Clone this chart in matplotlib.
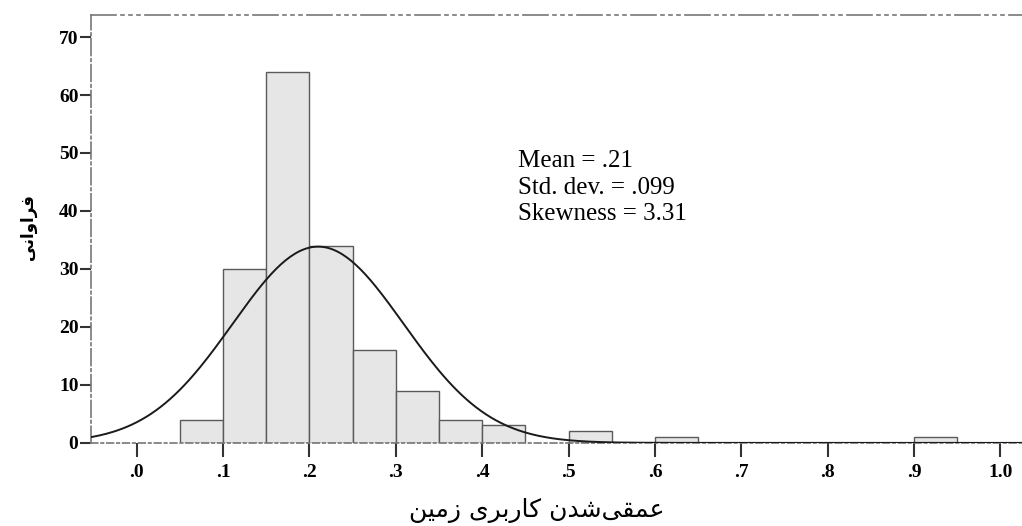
import numpy as np
import matplotlib
matplotlib.use("Agg")
import matplotlib.pyplot as plt

# DATA
bin_left = [0.05, 0.10, 0.15, 0.20, 0.25, 0.30, 0.35, 0.40, 0.50, 0.60, 0.90]
counts = [4, 30, 64, 34, 16, 9, 4, 3, 2, 1, 1]
bin_width = 0.05
mean_val = 0.21
std_val = 0.099
skew_val = 3.31
x_ticks = [0.0, 0.1, 0.2, 0.3, 0.4, 0.5, 0.6, 0.7, 0.8, 0.9, 1.0]
x_tick_labels = [".0", ".1", ".2", ".3", ".4", ".5", ".6", ".7", ".8", ".9", "1.0"]
y_ticks = [0, 10, 20, 30, 40, 50, 60, 70]

# persian labels, already shaped (presentation forms, visual order)
# "فراوانی"
y_label = "\uFBFD\uFEE7\uFE8D\uFEED\uFE8D\uFEAE\uFED3"
# "عمقی‌شدن کاربری زمین"
x_label = ("\uFEE6\uFBFF\uFEE3\uFEAF \uFBFC\uFEAE\uFE91\uFEAD\uFE8E\uFB90 "
           "\uFEE5\uFEAA\uFEB7\uFBFD\uFED8\uFEE4\uFECB")

serif = ["Liberation Serif", "DejaVu Serif"]
arab = ["DejaVu Sans"]

fig = plt.figure(figsize=(10.22, 5.26), dpi=100)
ax = fig.add_axes([0.089, 0.158, 0.911, 0.8135])

ax.bar(bin_left, counts, width=bin_width, align="edge",
       color="#e6e6e6", edgecolor="#5a5a5a", linewidth=1.0, zorder=2)

# normal curve from the stats shown in the box
n_total = sum(counts)
xs = np.linspace(-0.06, 1.03, 400)
ys = n_total * bin_width / (std_val * np.sqrt(2 * np.pi)) * np.exp(-0.5 * ((xs - mean_val) / std_val) ** 2)
ax.plot(xs, ys, color="#1a1a1a", linewidth=1.4, zorder=3)

ax.set_xlim(-0.053, 1.025)
ax.set_ylim(0, 73.8)

ax.set_xticks(x_ticks)
ax.set_xticklabels(x_tick_labels, fontfamily=serif, fontweight="bold", fontsize=14)
ax.set_yticks(y_ticks)
ax.set_yticklabels([str(v) for v in y_ticks], fontfamily=serif, fontweight="bold", fontsize=14)
ax.tick_params(axis="x", direction="out", length=10, width=1.5, color="#333333", pad=5)
ax.tick_params(axis="y", direction="out", length=8, width=1.5, color="#333333", pad=1)

# spines in the spss style
ax.spines["right"].set_visible(False)
ax.spines["top"].set_color("#777777")
ax.spines["top"].set_linewidth(1.2)
ax.spines["top"].set_linestyle((0, (15, 3, 1.8, 3, 1.8, 3, 1.8, 3)))
ax.spines["left"].set_color("#777777")
ax.spines["left"].set_linewidth(1.2)
ax.spines["left"].set_linestyle((0, (10, 2, 1.5, 2)))
ax.spines["bottom"].set_color("#777777")
ax.spines["bottom"].set_linewidth(1.2)
ax.spines["bottom"].set_linestyle((0, (4, 2, 1.5, 2)))

ax.text(0.459, 0.685,
        "Mean = .21\nStd. dev. = .099\nSkewness = 3.31",
        transform=ax.transAxes, fontfamily=serif, fontsize=18,
        va="top", ha="left", linespacing=1.28)

fig.text(0.027, 0.568, y_label, rotation=90, fontfamily=arab, fontweight="bold",
         fontsize=12, ha="center", va="center")
fig.text(0.525, 0.03, x_label, fontfamily=arab, fontsize=18, ha="center", va="center")

fig.savefig("out.png", dpi=100)
